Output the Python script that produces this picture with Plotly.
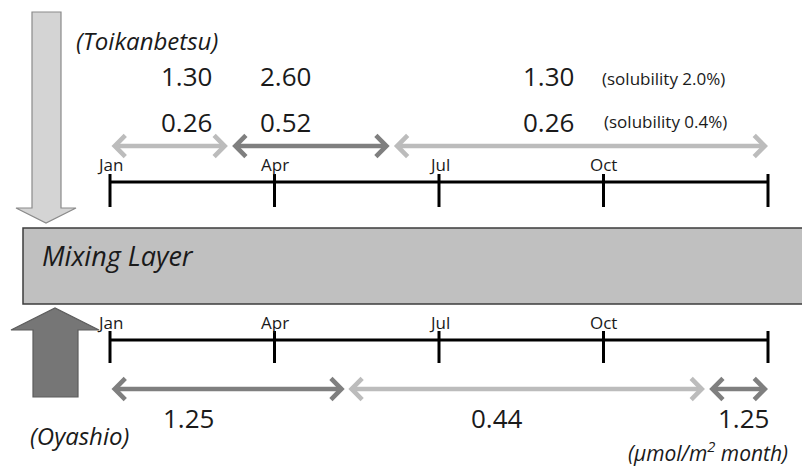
import plotly.graph_objects as go

# ---- data ----
month_labels = ["Jan", "Apr", "Jul", "Oct"]
month_ticks = [0, 3, 6, 9, 12]
top_periods = [(0.0, 2.15), (2.2, 5.1), (5.15, 12.0)]
top_flux_sol20 = ["1.30", "2.60", "1.30"]
top_flux_sol04 = ["0.26", "0.52", "0.26"]
bottom_periods = [(0.0, 4.28), (4.32, 10.85), (10.9, 12.0)]
bottom_flux = ["1.25", "0.44", "1.25"]

# ---- layout helpers (pixel -> month axis) ----
PX0, PXM = 110.0, (768.0 - 110.0) / 12.0
OFF = 8  # page body margin
def m(p):
    return (p - PX0) / PXM

LIGHT = "#bcbcbc"
DARK = "#7f7f7f"
TXT = "#1a1a1a"
FONT = "Open Sans"

fig = go.Figure()

# timelines
for y_line, y0, y1 in [(182, 174, 207), (340, 331, 363)]:
    fig.add_trace(go.Scatter(x=[month_ticks[0], month_ticks[-1]], y=[y_line, y_line],
                             mode="lines", line=dict(color="black", width=3),
                             hoverinfo="skip", showlegend=False))
    for t in month_ticks:
        fig.add_trace(go.Scatter(x=[t, t], y=[y0, y1], mode="lines",
                                 line=dict(color="black", width=3),
                                 hoverinfo="skip", showlegend=False))

annotations = []
# month labels
for lab, t in zip(month_labels, month_ticks):
    for yy in (164, 322):
        annotations.append(dict(x=t, y=yy, text=lab, showarrow=False,
                                font=dict(family=FONT, size=17, color=TXT),
                                xanchor="center", yanchor="middle"))

def dbl_arrow(x0, x1, yy, color):
    return dict(x=x1, y=yy, ax=x0, ay=yy, xref="x", yref="y", axref="x", ayref="y",
                text="", showarrow=True, arrowside="end+start", arrowhead=4,
                arrowsize=0.9, arrowwidth=4.5, arrowcolor=color,
                standoff=0, startstandoff=0)

top_colors = [LIGHT, DARK, LIGHT]
for (a, b), c in zip(top_periods, top_colors):
    annotations.append(dbl_arrow(a, b, 146, c))
bot_colors = [DARK, LIGHT, DARK]
for (a, b), c in zip(bottom_periods, bot_colors):
    annotations.append(dbl_arrow(a, b, 389, c))

# flux values
top_x = [m(186), m(285), m(548)]
for xx, v1, v2 in zip(top_x, top_flux_sol20, top_flux_sol04):
    annotations.append(dict(x=xx, y=76, text=v1, showarrow=False,
                            font=dict(family=FONT, size=26, color=TXT),
                            xanchor="center", yanchor="middle"))
    annotations.append(dict(x=xx, y=122, text=v2, showarrow=False,
                            font=dict(family=FONT, size=26, color=TXT),
                            xanchor="center", yanchor="middle"))
annotations.append(dict(x=m(600), y=78, text="(solubility 2.0%)", showarrow=False,
                        font=dict(family=FONT, size=17, color=TXT),
                        xanchor="left", yanchor="middle"))
annotations.append(dict(x=m(602), y=121, text="(solubility 0.4%)", showarrow=False,
                        font=dict(family=FONT, size=17, color=TXT),
                        xanchor="left", yanchor="middle"))

bot_x = [m(188), m(497), m(743)]
for xx, v in zip(bot_x, bottom_flux):
    annotations.append(dict(x=xx, y=418, text=v, showarrow=False,
                            font=dict(family=FONT, size=26, color=TXT),
                            xanchor="center", yanchor="middle"))

annotations.append(dict(x=m(74), y=40, text="<i>(Toikanbetsu)</i>", showarrow=False,
                        font=dict(family=FONT, size=24, color=TXT),
                        xanchor="left", yanchor="middle"))
annotations.append(dict(x=m(28), y=435, text="<i>(Oyashio)</i>", showarrow=False,
                        font=dict(family=FONT, size=24, color=TXT),
                        xanchor="left", yanchor="middle"))
annotations.append(dict(x=m(790), y=451, text="<i>(µmol/m<sup>2</sup> month)</i>", showarrow=False,
                        font=dict(family=FONT, size=21, color=TXT),
                        xanchor="right", yanchor="middle"))
annotations.append(dict(x=m(40), y=255, text="<i>Mixing Layer</i>", showarrow=False,
                        font=dict(family=FONT, size=27, color=TXT),
                        xanchor="left", yanchor="middle"))

shapes = []
# mixing layer box
shapes.append(dict(type="rect", xref="x", yref="y", x0=m(23), x1=m(808), y0=228, y1=304,
                   fillcolor="#c0c0c0", line=dict(color="#3c3c3c", width=1.5), layer="below"))

def poly(pts):
    return "M " + " L ".join(f"{m(px)},{py}" for px, py in pts) + " Z"

# down arrow (Toikanbetsu)
down = [(32, 12), (61, 12), (61, 208), (76, 208), (46, 223), (16, 208), (32, 208)]
shapes.append(dict(type="path", xref="x", yref="y", path=poly(down),
                   fillcolor="#d4d4d4", line=dict(color="#8a8a8a", width=1.2)))
# up arrow (Oyashio)
up = [(33, 397), (78, 397), (78, 330), (99, 330), (55, 308), (11, 330), (33, 330)]
shapes.append(dict(type="path", xref="x", yref="y", path=poly(up),
                   fillcolor="#767676", line=dict(color="#5c5c5c", width=1.2)))

fig.update_layout(
    width=810 - OFF, height=467 - OFF,
    margin=dict(l=0, r=0, t=0, b=0),
    paper_bgcolor="white", plot_bgcolor="white",
    xaxis=dict(range=[m(OFF), m(810)], visible=False, fixedrange=True),
    yaxis=dict(range=[467, OFF], visible=False, fixedrange=True),
    annotations=annotations, shapes=shapes, showlegend=False,
)

fig.write_html("out.html")
